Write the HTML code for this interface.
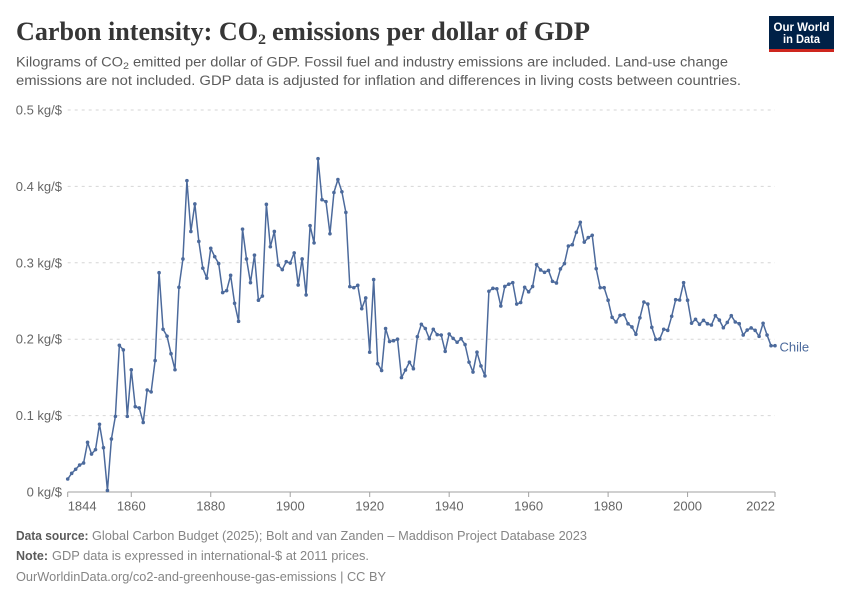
<!DOCTYPE html>
<html lang="en">
<head>
<meta charset="utf-8">
<title>Carbon intensity: CO₂ emissions per dollar of GDP</title>
<style>
html,body{margin:0;padding:0;background:#fff;}
svg{display:block;}
text{font-family:"Liberation Sans",sans-serif;}
.title{font-family:"Liberation Serif",serif;font-weight:700;font-size:26px;fill:#363636;}
.sub{font-size:14.2px;fill:#5b5b5b;}
.tick{font-size:13px;fill:#666;}
.foot{font-size:12.6px;fill:#858585;}
.bold{font-weight:700;fill:#5b5b5b;}
</style>
</head>
<body>
<svg id="chart" width="850" height="600" viewBox="0 0 850 600" xmlns="http://www.w3.org/2000/svg">
  <rect x="0" y="0" width="850" height="600" fill="#fff"/>
  <g>
    <text class="title" x="16" y="40" textLength="242" lengthAdjust="spacingAndGlyphs">Carbon intensity: CO</text>
    <text class="title" x="258" y="44" style="font-size:15px" textLength="8" lengthAdjust="spacingAndGlyphs">2</text>
    <text class="title" x="272" y="40" textLength="318" lengthAdjust="spacingAndGlyphs">emissions per dollar of GDP</text>
  </g>
  <g>
    <text class="sub" x="16" y="66.5" textLength="107" lengthAdjust="spacingAndGlyphs">Kilograms of CO</text>
    <text class="sub" x="123" y="69" style="font-size:9px" textLength="6" lengthAdjust="spacingAndGlyphs">2</text>
    <text class="sub" x="133" y="66.5" textLength="595" lengthAdjust="spacingAndGlyphs">emitted per dollar of GDP. Fossil fuel and industry emissions are included. Land-use change</text>
    <text class="sub" x="16" y="85" textLength="725" lengthAdjust="spacingAndGlyphs">emissions are not included. GDP data is adjusted for inflation and differences in living costs between countries.</text>
  </g>
  <a>
    <rect x="769" y="16" width="65" height="33" fill="#002147"/>
    <rect x="769" y="49" width="65" height="3" fill="#ce261e"/>
    <text x="801.5" y="31" text-anchor="middle" fill="#fff" font-weight="700" font-size="12" textLength="56" lengthAdjust="spacingAndGlyphs">Our World</text>
    <text x="801.5" y="43" text-anchor="middle" fill="#fff" font-weight="700" font-size="12" textLength="37" lengthAdjust="spacingAndGlyphs">in Data</text>
  </a>
  <g id="plot"></g>
  <g>
    <text class="foot bold" x="16" y="540" textLength="72.5" lengthAdjust="spacingAndGlyphs">Data source:</text>
    <text class="foot" x="92" y="540" textLength="495" lengthAdjust="spacingAndGlyphs">Global Carbon Budget (2025); Bolt and van Zanden – Maddison Project Database 2023</text>
    <text class="foot bold" x="16" y="560" textLength="32" lengthAdjust="spacingAndGlyphs">Note:</text>
    <text class="foot" x="52" y="560" textLength="317" lengthAdjust="spacingAndGlyphs">GDP data is expressed in international-$ at 2011 prices.</text>
    <text class="foot" x="16" y="581" textLength="370" lengthAdjust="spacingAndGlyphs">OurWorldinData.org/co2-and-greenhouse-gas-emissions | CC BY</text>
  </g>
</svg>
<script>
const firstYear = 1844;
const seriesName = "Chile";
const chileValues = [
  .017,.0244,.0297,.0353,.038,.065,.0497,.0554,.0886,.058,.002,.0694,.099,.192,.186,.099,
  .160,.1117,.110,.091,.1335,.131,.172,.287,.213,.204,.181,.160,.268,.305,.4075,.341,.377,.328,.293,.280,
  .319,.308,.299,.261,.2635,.2836,.247,.2234,.344,.305,.274,.310,.251,.2565,.3765,.321,.341,.297,.291,.3015,
  .2997,.313,.271,.305,.258,.3486,.326,.4363,.3826,.380,.338,.392,.409,.393,.366,.2688,.2675,.2705,.240,.254,
  .183,.278,.168,.159,.214,.197,.198,.2,.1497,.1597,.170,.1614,.2033,.2195,.214,.2007,.213,.206,.2055,.184,
  .2068,.201,.196,.2007,.193,.170,.157,.183,.165,.152,.2627,.2666,.266,.2435,.269,.272,.274,.246,.248,.268,
  .262,.269,.2976,.2906,.2875,.29,.2757,.2736,.292,.299,.322,.3237,.340,.353,.327,.333,.336,.2923,.2675,.2675,
  .251,.2286,.2225,.2312,.232,.2203,.216,.2064,.228,.2487,.246,.2155,.1998,.2003,.213,.2116,.23,.2517,.2513,.274,
  .251,.221,.226,.2195,.2247,.2203,.2186,.2308,.225,.215,.222,.2308,.2225,.2203,.2055,.212,.2147,.2116,.2037,.2208,.2055,.1915,.1915
];
const yTicks = [0, 0.1, 0.2, 0.3, 0.4, 0.5];
const yTickLabels = ["0 kg/$", "0.1 kg/$", "0.2 kg/$", "0.3 kg/$", "0.4 kg/$", "0.5 kg/$"];
const xTicks = [1844, 1860, 1880, 1900, 1920, 1940, 1960, 1980, 2000, 2022];

const NS = "http://www.w3.org/2000/svg";
const plot = document.getElementById("plot");
const X0 = 67.7, X1 = 775, Y0 = 492, Y1 = 110;
const lastYear = firstYear + chileValues.length - 1;
function xScale(year) { return X0 + (year - firstYear) / (2022 - firstYear) * (X1 - X0); }
function yScale(v) { return Y0 - v / 0.5 * (Y0 - Y1); }
function make(tag, attrs, parent) {
  const el = document.createElementNS(NS, tag);
  for (const k in attrs) el.setAttribute(k, attrs[k]);
  (parent || plot).appendChild(el);
  return el;
}

yTicks.forEach(function (t, i) {
  if (t !== 0) {
    const grid = make("line", {x1: X0, x2: X1, y1: yScale(t), y2: yScale(t), stroke: "#d6d6d6", "stroke-dasharray": "3,4", "stroke-width": 1});
    
    
  }
  const lab = make("text", {x: 62, y: yScale(t) + 4.5, "text-anchor": "end", "class": "tick"});
  lab.textContent = yTickLabels[i];
  
  
});

const axis = make("line", {x1: X0, x2: X1, y1: Y0, y2: Y0, stroke: "#a1a1a1", "stroke-width": 1});



xTicks.forEach(function (yr, i) {
  const tx = xScale(yr);
  const tk = make("line", {x1: tx, x2: tx, y1: Y0, y2: Y0 + 5, stroke: "#a1a1a1", "stroke-width": 1});
  
  
  const anchor = i === 0 ? "start" : (i === xTicks.length - 1 ? "end" : "middle");
  const lab = make("text", {x: tx, y: 510.5, "text-anchor": anchor, "class": "tick"});
  lab.textContent = String(yr);
  
  
});

const pts = chileValues.map(function (v, i) { return xScale(firstYear + i).toFixed(2) + "," + yScale(v).toFixed(2); });
const line = make("polyline", {points: pts.join(" "), fill: "none", stroke: "#4c6a9c", "stroke-width": 1.5, "stroke-linejoin": "round"});



chileValues.forEach(function (v, i) {
  const dot = make("circle", {cx: xScale(firstYear + i), cy: yScale(v), r: 1.8, fill: "#4c6a9c"});
  
  
});

const endLabel = make("text", {x: xScale(lastYear) + 4.5, y: yScale(chileValues[chileValues.length - 1]) + 6, fill: "#4c6a9c", "font-size": "13"});
endLabel.textContent = seriesName;


</script>
</body>
</html>
